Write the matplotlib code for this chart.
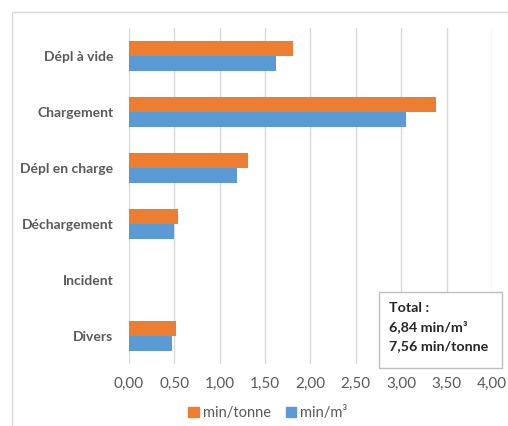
import matplotlib
matplotlib.use("Agg")
import matplotlib.pyplot as plt
from matplotlib.patches import Patch, Rectangle
import numpy as np

categories = ["Dépl à vide", "Chargement", "Dépl en charge", "Déchargement", "Incident", "Divers"]
min_tonne = [1.81, 3.38, 1.31, 0.54, 0.0, 0.52]
min_m3 = [1.62, 3.05, 1.19, 0.50, 0.0, 0.48]
xticks = [0.0, 0.5, 1.0, 1.5, 2.0, 2.5, 3.0, 3.5, 4.0]
xtick_labels = ["0,00", "0,50", "1,00", "1,50", "2,00", "2,50", "3,00", "3,50", "4,00"]
total_lines = ["Total :", "6,84 min/m³", "7,56 min/tonne"]

ORANGE = "#ED7D31"
BLUE = "#5B9BD5"
GRID = "#D9D9D9"
TEXT = "#595959"

plt.rcParams["font.family"] = ["Lato", "DejaVu Sans"]

W, H = 508, 426
fig = plt.figure(figsize=(W / 100, H / 100), dpi=100)

# chart frame (light border, open to the right and bottom)
fig.patches.append(Rectangle((12 / W, -0.1), 1.2, 1 - 12 / H + 0.1,
                             transform=fig.transFigure, fill=False,
                             edgecolor="#D9D9D9", linewidth=1.0))

ax = fig.add_axes([128.7 / W, 1 - 364 / H, (492 - 128.7) / W, (364 - 28) / H])

y = np.arange(len(categories))
h = 0.26
ax.barh(y - h / 2, min_tonne, height=h, color=ORANGE, zorder=3)
ax.barh(y + h / 2, min_m3, height=h, color=BLUE, zorder=3)

ax.set_xlim(0, 4.0)
ax.set_ylim(len(categories) - 0.5, -0.5)
ax.set_xticks(xticks)
ax.set_xticklabels(xtick_labels, fontsize=11)
ax.set_yticks(y)
ax.set_yticklabels(categories, fontweight="bold", fontsize=10)
ax.tick_params(axis="both", length=0, colors=TEXT)
ax.tick_params(axis="y", pad=11)
ax.tick_params(axis="x", pad=9)
ax.grid(axis="x", color=GRID, linewidth=1.0, zorder=0)
for s in ax.spines.values():
    s.set_visible(False)

# totals box
fig.patches.append(Rectangle((378.7 / W, 1 - 368.3 / H), (502 - 378.7) / W, (368.3 - 292.3) / H,
                             transform=fig.transFigure, facecolor="white",
                             edgecolor="#BFBFBF", linewidth=1.0, zorder=5))
for line, ypx in zip(total_lines, [308, 327, 345.7]):
    fig.text(389 / W, 1 - ypx / H, line, fontsize=10.3, fontweight="bold",
             color="#262626", va="center", ha="left", zorder=6)

handles = [Patch(color=ORANGE, label="min/tonne"), Patch(color=BLUE, label="min/m³")]
leg = fig.legend(handles=handles, loc="center", bbox_to_anchor=(268 / W, 1 - 413 / H),
                 ncol=2, frameon=False, fontsize=10.5, handlelength=0.7, handleheight=0.7,
                 handletextpad=0.3, columnspacing=1.0)
for t in leg.get_texts():
    t.set_color(TEXT)

fig.savefig("out.png", dpi=100, facecolor="white")
